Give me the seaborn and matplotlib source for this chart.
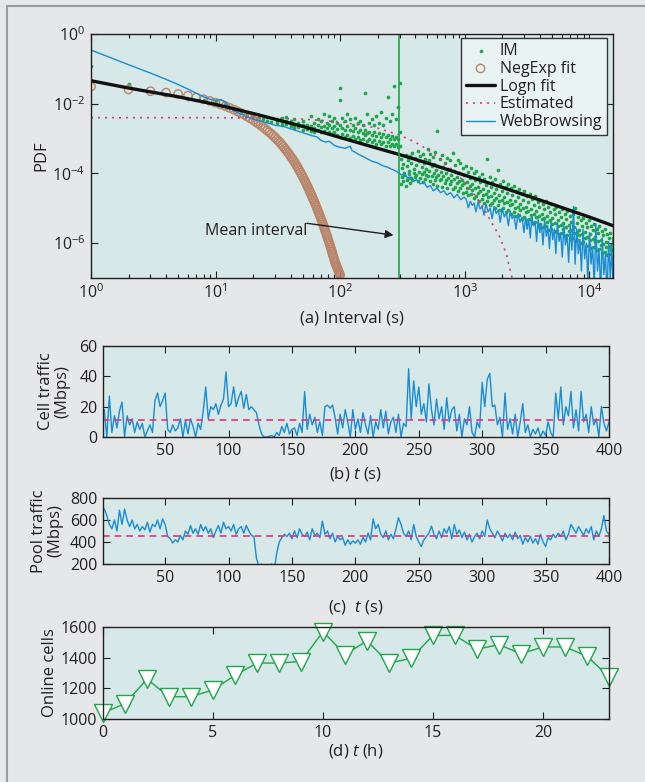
import numpy as np
import pandas as pd
import matplotlib.pyplot as plt
import seaborn as sns
from matplotlib.lines import Line2D

# ---------------- (a) interval PDF (values are log10 of the PDF) ----------------
web_x = [1, 2, 3, 4, 5, 6, 7, 8, 9, 10, 11, 12, 13, 14, 16, 18, 20, 23, 26, 30,
         35, 40, 45, 50, 55, 60, 65, 70, 76, 82, 90, 100, 110, 120, 125, 130, 140,
         150, 165, 180, 200, 220, 240, 260, 280, 300,
         310, 330, 350, 370, 390, 410, 440, 470, 500, 530, 560, 600, 640, 680, 720,
         770, 820, 870, 930, 990,
         1030, 1070, 1110, 1150, 1190, 1230, 1280, 1330, 1380, 1430, 1480, 1540,
         1600, 1660, 1720, 1790, 1860, 1930, 2000, 2080, 2160, 2240, 2320, 2400,
         2490, 2580, 2680, 2780, 2880, 2990,
         3080, 3170, 3260, 3360, 3460, 3560, 3670, 3780, 3890, 4010, 4130, 4250,
         4380, 4510, 4650, 4790, 4930, 5080, 5230, 5390, 5550, 5720, 5890, 6070,
         6250, 6440, 6630, 6830, 7040, 7250, 7470, 7690, 7920, 8160, 8400, 8650,
         8910, 9180, 9460, 9740, 10030, 10330, 10640, 10960, 11290, 11630, 11980,
         12340, 12710, 13090, 13480, 13880, 14300, 14730, 15170, 15500]
web_logy = [-0.46, -0.88, -1.12, -1.3, -1.45, -1.58, -1.7, -1.8, -1.87, -1.9, -1.88,
            -1.95, -2.12, -2.2, -2.3, -2.38, -2.44, -2.5, -2.55, -2.62, -2.65, -2.72,
            -2.78, -2.83, -2.88, -2.92, -2.95, -3.05, -3.1, -3.08, -3.2, -3.25, -3.28,
            -3.22, -3.35, -3.38, -3.45, -3.5, -3.58, -3.65, -3.7, -3.78, -3.82, -3.88,
            -3.93, -4.0,
            -4.05, -4.0, -4.15, -4.1, -4.22, -4.18, -4.3, -4.25, -4.4, -4.35, -4.5,
            -4.42, -4.55, -4.5, -4.62, -4.55, -4.7, -4.6, -4.75, -4.68,
            -4.75, -4.98, -4.8, -4.92, -4.85, -5.1, -4.82, -5.02, -4.95, -5.2,
            -4.88, -5.1, -5.0, -5.3, -4.95, -5.15, -5.05, -5.4, -5.0, -5.25,
            -5.12, -5.5, -5.08, -5.3, -5.2, -5.6, -5.15, -5.4, -5.25, -5.7,
            -5.25, -5.6, -5.3, -5.85, -5.22, -5.5, -5.4, -5.95,
            -5.3, -5.7, -5.45, -6.05, -5.32, -5.8, -5.55, -6.15,
            -5.38, -5.9, -5.6, -6.3, -5.42, -5.95, -5.7, -6.4,
            -5.48, -6.05, -5.75, -6.55, -5.5, -6.2, -4.95, -6.6,
            -5.58, -6.3, -5.9, -6.8, -5.6, -6.45, -6.0, -7.1,
            -5.7, -6.6, -6.1, -7.3, -5.45, -6.8, -6.2, -7.4,
            -5.85, -6.9, -6.3, -7.5, -5.95, -7.0, -6.1, -7.3]

im_near_x = [1, 2, 6, 8, 10, 12, 14, 16, 18, 20, 22, 24, 26, 28]
im_near_logy = [-0.91, -1.43, -1.86, -1.9, -1.93, -2.05, -2.18, -2.25, -2.3, -2.36,
                -2.42, -2.45, -2.5, -2.52]

im_mid_x = [31, 34, 37, 40, 43, 46, 50, 54, 58, 62, 66, 70, 74, 78, 82, 86, 90, 95,
            99, 104, 109, 114, 120, 126, 132, 138, 145, 152, 157, 164, 171, 179, 187,
            195, 204, 213, 222, 232, 240, 250, 260, 270, 280, 290, 300]
im_mid_a = [-2.45, -2.4, -2.38, -2.5, -2.45, -2.55, -2.5, -2.6, -2.35, -2.55, -2.45,
            -2.5, -2.3, -2.55, -2.35, -2.5, -2.4, -2.55, -1.55, -2.4, -2.5, -2.3,
            -2.45, -2.6, -2.4, -2.55, -2.5, -2.6, -1.68, -2.3, -2.55, -2.45, -2.6,
            -2.35, -2.55, -2.25, -2.6, -2.4, -1.8, -2.5, -2.3, -1.5, -2.45, -2.1, -1.4]
im_mid_b = [-2.5, -2.52, -2.5, -2.58, -2.6, -2.62, -2.62, -2.66, -2.65, -2.7, -2.62,
            -2.68, -2.65, -2.7, -2.62, -2.7, -2.65, -2.72, -2.6, -2.7, -2.75, -2.65,
            -2.75, -2.78, -2.7, -2.8, -2.75, -2.85, -2.75, -2.85, -2.8, -2.9, -2.82,
            -2.92, -2.85, -2.95, -2.88, -2.95, -2.9, -3.0, -2.92, -3.0, -2.95, -3.02, -2.8]
im_mid_c = [-2.55, -2.6, -2.58, -2.65, -2.7, -2.68, -2.75, -2.72, -2.78, -2.8, -2.75,
            -2.82, -2.78, -2.85, -2.8, -2.88, -2.82, -2.9, -1.9, -2.88, -2.95, -2.9,
            -2.98, -2.92, -3.0, -2.95, -3.05, -3.0, -2.9, -3.08, -3.0, -3.1, -3.05,
            -3.15, -3.08, -3.15, -3.1, -3.2, -3.1, -3.2, -3.15, -3.22, -3.15, -3.25, -3.2]

im_far_x = [310, 320, 335, 350, 365, 380, 400, 420, 440, 460, 480, 505, 530, 555, 580,
            600, 630, 660, 690, 720, 760, 800, 840, 880, 920, 970, 1020, 1070, 1120,
            1180, 1240, 1300, 1370, 1440, 1510, 1590, 1670, 1750, 1840, 1930, 2030,
            2130, 2240, 2350, 2470, 2600, 2730, 2870, 3010, 3160, 3320, 3490, 3670,
            3850, 4050, 4250, 4470, 4700, 4940, 5190, 5450, 5730, 6020, 6330, 6650,
            6990, 7340, 7710, 8100, 8510, 8950, 9400, 9880, 10380, 10910, 11460,
            12040, 12650, 13300, 13970, 14680, 15400]
im_far_hi = [-3.58, -3.72, -3.46, -3.62, -3.5, -3.41, -3.55, -3.36, -3.5, -3.44,
             -3.6, -3.3, -3.45, -3.52, -3.38, -2.77, -3.6, -3.48, -3.7, -3.55,
             -3.62, -3.4, -3.75, -3.62, -3.7, -3.85, -3.8, -3.95, -3.85, -4.0,
             -3.92, -4.1, -4.02, -4.15, -3.6, -4.1, -4.25, -4.15, -3.9, -4.3,
             -4.22, -4.4, -4.3, -4.42, -4.35, -4.5, -4.45, -4.58, -4.5, -4.65,
             -4.6, -4.72, -4.65, -4.82, -4.75, -4.88, -4.8, -4.95, -4.88, -5.02,
             -4.95, -5.1, -5.02, -5.15, -5.08, -5.22, -5.15, -4.98, -5.25, -5.35,
             -5.28, -5.42, -5.35, -5.5, -5.45, -5.58, -5.52, -5.66, -5.6, -5.75,
             -5.7, -5.85]
im_far_lo = [-4.3, -4.22, -4.35, -4.12, -4.28, -4.18, -4.1, -4.22, -4.12, -4.25,
             -4.15, -4.08, -4.22, -4.3, -4.18, -4.35, -4.2, -4.4, -4.28, -4.42,
             -4.3, -4.45, -4.38, -4.5, -4.42, -4.55, -4.52, -4.62, -4.58, -4.7,
             -4.65, -4.78, -4.72, -4.85, -4.8, -4.92, -4.85, -4.98, -4.92, -5.05,
             -4.98, -5.1, -5.05, -5.15, -5.1, -5.22, -5.18, -5.3, -5.25, -5.35,
             -5.3, -5.42, -5.38, -5.5, -5.45, -5.55, -5.5, -5.62, -5.58, -5.68,
             -5.65, -5.75, -5.7, -5.8, -5.78, -5.88, -5.85, -5.95, -5.9, -6.0,
             -5.98, -6.08, -6.05, -6.15, -6.1, -6.2, -6.18, -6.28, -6.25, -6.35,
             -6.32, -6.42]
im_far_x2 = [315, 327, 342, 357, 372, 390, 410, 430, 450, 470, 492, 517, 542, 567, 590,
             615, 645, 675, 705, 740, 780, 820, 860, 900, 945, 995, 1045, 1095, 1150,
             1210, 1270, 1335, 1405, 1475, 1550, 1630, 1710, 1795, 1885, 1980, 2080,
             2185, 2295, 2410, 2535, 2665, 2800, 2940, 3085, 3240, 3405, 3580, 3760,
             3950, 4150, 4360, 4585, 4820, 5065, 5320, 5590, 5875, 6175, 6490, 6820,
             7165, 7525, 7905, 8305, 8730, 9175, 9640, 10130, 10645, 11185, 11750,
             12345, 12975, 13635, 14325, 15040, 15500]
im_far_mid = [-3.85, -3.98, -3.78, -3.92, -3.7, -3.88, -3.75, -3.65, -3.82, -3.7,
              -3.86, -3.62, -3.8, -3.72, -3.9, -3.78, -3.95, -3.82, -4.0, -3.88,
              -4.05, -3.92, -4.1, -3.98, -4.18, -4.05, -4.25, -4.12, -4.3, -4.18,
              -4.38, -4.25, -4.45, -4.32, -4.5, -4.38, -4.55, -4.45, -4.62, -4.5,
              -4.68, -4.55, -4.75, -4.62, -4.8, -4.68, -4.88, -4.75, -4.95, -4.82,
              -5.02, -4.9, -5.08, -4.95, -5.15, -5.02, -5.22, -5.1, -5.28, -5.15,
              -5.35, -5.25, -5.42, -5.3, -5.48, -5.38, -5.55, -5.42, -5.62, -5.5,
              -5.68, -5.55, -5.75, -5.62, -5.82, -5.7, -5.9, -5.78, -5.98, -5.85,
              -6.05, -5.95]
im_far_q = [-4.1, -4.05, -4.18, -4.02, -4.12, -3.98, -4.05, -3.95, -4.02, -3.95,
            -4.05, -3.92, -4.08, -4.0, -4.1, -4.05, -4.15, -4.08, -4.2, -4.12,
            -4.22, -4.15, -4.28, -4.22, -4.32, -4.28, -4.42, -4.35, -4.48, -4.42,
            -4.55, -4.5, -4.62, -4.58, -4.68, -4.65, -4.75, -4.7, -4.8, -4.76,
            -4.85, -4.82, -4.92, -4.88, -4.98, -4.95, -5.05, -5.0, -5.12, -5.08,
            -5.18, -5.15, -5.25, -5.22, -5.32, -5.28, -5.38, -5.35, -5.45, -5.42,
            -5.5, -5.48, -5.58, -5.55, -5.65, -5.62, -5.7, -5.68, -5.78, -5.75,
            -5.85, -5.82, -5.9, -5.88, -5.98, -5.95, -6.05, -6.02, -6.12, -6.1,
            -6.2, -6.18]

negexp_x = list(range(1, 101))
negexp_logy = [-1.51, -1.59, -1.64, -1.68, -1.72, -1.77, -1.82, -1.87, -1.92, -1.97,
               -2.02, -2.07, -2.12, -2.17, -2.22, -2.27, -2.32, -2.37, -2.42, -2.47,
               -2.52, -2.57, -2.62, -2.67, -2.72, -2.77, -2.82, -2.87, -2.92, -2.97,
               -3.02, -3.07, -3.12, -3.18, -3.23, -3.29, -3.34, -3.40, -3.45, -3.51,
               -3.56, -3.62, -3.67, -3.73, -3.79, -3.85, -3.91, -3.97, -4.03, -4.09,
               -4.15, -4.21, -4.27, -4.33, -4.39, -4.45, -4.51, -4.57, -4.63, -4.69,
               -4.75, -4.81, -4.87, -4.93, -4.99, -5.05, -5.11, -5.17, -5.23, -5.29,
               -5.35, -5.41, -5.47, -5.53, -5.59, -5.65, -5.71, -5.77, -5.83, -5.89,
               -5.95, -6.01, -6.07, -6.13, -6.19, -6.25, -6.31, -6.37, -6.43, -6.49,
               -6.54, -6.59, -6.64, -6.68, -6.72, -6.76, -6.80, -6.84, -6.88, -6.92]

logn_x = [1, 2, 5, 10, 20, 50, 100, 200, 300, 500, 1000, 2000, 5000, 10000, 15500]
logn_logy = [-1.34, -1.55, -1.8, -2.02, -2.28, -2.65, -2.97, -3.28, -3.46, -3.7,
             -4.05, -4.4, -4.88, -5.25, -5.5]

est_x = [1, 10, 20, 50, 100, 200, 300, 400, 513, 650, 800, 1000, 1170, 1400, 1600,
         1900, 2150, 2400, 2600]
est_logy = [-2.4, -2.4, -2.41, -2.44, -2.52, -2.7, -2.9, -3.1, -3.34, -3.6, -3.91,
            -4.25, -4.57, -4.95, -5.34, -5.8, -6.29, -7.0, -7.5]
mean_interval = 296

# ---------------- (b) cell traffic, (c) pool traffic: one value every 2 s ----------------
cell_traffic = [18, 0, 27, 3, 14, 6, 17, 23, 0, 14,
                8, 12, 3, 10, 5, 9, 0, 4, 8, 3,
                24, 29, 20, 24, 29, 5, 3, 8, 4, 6,
                12, 0, 11, 2, 12, 7, 0, 9, 5, 17,
                33, 12, 20, 18, 22, 15, 21, 25, 43, 20,
                22, 33, 20, 26, 30, 19, 28, 18, 20, 18,
                16, 8, 2, 0, 0, 0.5, 1, 0, 3, 1,
                7, 3, 9, 2, 5, 6, 1, 9, 3, 30,
                5, 15, 8, 13, 3, 10, 1, 20, 21, 19,
                21, 13, 2, 15, 6, 18, 10, 0, 18, 5,
                12, 3, 16, 8, 2, 14, 0, 10, 5, 18,
                6, 17, 2, 10, 13, 3, 15, 0, 9, 7,
                45, 12, 37, 20, 33, 15, 22, 10, 35, 18,
                8, 25, 12, 20, 5, 26, 10, 18, 20, 4,
                15, 0, 12, 8, 20, 3, 0, 10, 6, 36,
                20, 38, 42, 20, 21, 8, 13, 0, 29, 5,
                12, 2, 15, 0, 10, 22, 3, 8, 0, 5,
                2, 6, 0, 4, 1, 10, 3, 0, 29, 12,
                33, 8, 20, 14, 30, 6, 18, 4, 30, 10,
                15, 3, 20, 8, 12, 0, 20, 9, 4, 10]
cell_mean = 11

pool_traffic = [700, 640, 560, 520, 600, 500, 690, 560, 700, 600,
                540, 600, 520, 560, 500, 540, 510, 580, 490, 560,
                540, 600, 520, 610, 560, 450, 430, 390, 420, 400,
                460, 420, 500, 470, 550, 480, 520, 470, 560, 500,
                540, 480, 520, 440, 500, 550, 480, 580, 520, 540,
                500, 560, 470, 520, 540, 480, 550, 500, 460, 450,
                250, 180, 200, 160, 190, 170, 200, 150, 300, 400,
                440, 470, 450, 480, 430, 500, 440, 520, 470, 450,
                490, 420, 520, 460, 480, 440, 590, 470, 500, 430,
                480, 400, 450, 420, 440, 370, 420, 380, 410, 390,
                420, 380, 440, 400, 480, 420, 610, 520, 560, 470,
                440, 500, 420, 470, 430, 520, 620, 560, 480, 450,
                500, 420, 560, 450, 400, 360, 420, 450, 480, 545,
                470, 430, 500, 440, 520, 480, 540, 430, 560, 470,
                510, 440, 490, 420, 470, 400, 450, 480, 430, 500,
                450, 600, 520, 480, 440, 500, 460, 410, 480, 440,
                470, 420, 490, 430, 460, 380, 440, 400, 450, 390,
                430, 380, 470, 400, 360, 440, 420, 470, 440, 480,
                450, 500, 420, 470, 560, 520, 480, 540, 500, 460,
                520, 480, 540, 420, 500, 450, 520, 640, 500, 470]
pool_mean = 455
t_sec = np.arange(2, 401, 2)

# ---------------- (d) online cells per hour ----------------
hours = list(range(24))
online_cells = [1040, 1100, 1260, 1145, 1145, 1190, 1285, 1365, 1365, 1375, 1570,
                1420, 1510, 1365, 1395, 1545, 1545, 1455, 1485, 1425, 1470, 1470,
                1410, 1275]

BG = "#e6e7e8"
FACE = "#d6e8e8"
BLUE = "#1a8cd6"
GREEN = "#1ea64a"
BROWN = "#b98468"
PINK = "#e8307c"
INK = "#231f20"

sns.set_theme(style="ticks")
plt.rcParams["font.family"] = ["Open Sans", "DejaVu Sans"]
plt.rcParams.update({
    "mathtext.fontset": "custom",
    "mathtext.rm": "Open Sans",
    "mathtext.it": "Open Sans:italic",
    "mathtext.bf": "Open Sans:bold",
    "axes.unicode_minus": False,
    "font.size": 11.5,
    "text.color": INK,
    "axes.labelcolor": INK,
    "xtick.color": INK,
    "ytick.color": INK,
    "axes.edgecolor": INK,
})

W, H = 645, 782
fig = plt.figure(figsize=(W / 100, H / 100), dpi=100, facecolor=BG)
# outer frame (top and left edges only are visible)
fig.add_artist(Line2D([7 / W, 7 / W], [0, 1 - 6 / H], color="#9c9c9c", lw=1.5))
fig.add_artist(Line2D([7 / W, 1], [1 - 6 / H, 1 - 6 / H], color="#9c9c9c", lw=1.5))


def add_ax(l, t, r, b):
    ax = fig.add_axes([l / W, 1 - b / H, (r - l) / W, (b - t) / H])
    ax.set_facecolor(FACE)
    for s in ax.spines.values():
        s.set_linewidth(1.0)
    ax.tick_params(direction="in", top=True, right=True, labelsize=11.5,
                   length=5, width=0.8, pad=4)
    ax.tick_params(which="minor", direction="in", top=True, right=True,
                   length=3, width=0.8)
    return ax


# ----- panel (a) -----
ax = add_ax(91, 34, 613, 278)
ax.set_xscale("log")
ax.set_yscale("log")

im_x = im_near_x + im_mid_x * 3 + im_far_x * 2 + im_far_x2 * 2
im_logy = (im_near_logy + im_mid_a + im_mid_b + im_mid_c
           + im_far_hi + im_far_lo + im_far_mid + im_far_q)
sns.scatterplot(x=im_x, y=10 ** np.array(im_logy), ax=ax, color=GREEN, s=7,
                linewidth=0, label="IM")
sns.lineplot(x=web_x, y=10 ** np.array(web_logy), ax=ax, color=BLUE, lw=1.0,
             estimator=None, label="WebBrowsing")
sns.scatterplot(x=negexp_x, y=10 ** np.array(negexp_logy), ax=ax, marker="o", s=36,
                color=BROWN, facecolors="none", edgecolor=BROWN, linewidth=1.0,
                label="NegExp fit")
sns.lineplot(x=est_x, y=10 ** np.array(est_logy), ax=ax, color=PINK, lw=1.2,
             dashes=False, linestyle=(0, (1.2, 3)), label="Estimated")
sns.lineplot(x=logn_x, y=10 ** np.array(logn_logy), ax=ax, color="#111111", lw=2.4,
             label="Logn fit")
ax.axvline(mean_interval, color=GREEN, lw=1.2)

ax.set_xlim(1, 15500)
ax.set_ylim(1e-7, 1)
ax.set_yticks([1, 1e-2, 1e-4, 1e-6])
ax.yaxis.set_minor_locator(plt.NullLocator())
ax.set_ylabel("PDF", va="center")
ax.yaxis.set_label_coords(-0.096, 0.5)
ax.set_xlabel("(a) Interval (s)", va="top")
ax.xaxis.set_label_coords(0.5, -0.132)

ax.text(8.2, 10 ** -5.66, "Mean interval", ha="left", va="center", fontsize=11.5)
ax.annotate("", xy=(268, 10 ** -5.77), xytext=(54, 10 ** -5.43),
            arrowprops=dict(arrowstyle="-|>", color=INK, lw=1.0,
                            mutation_scale=12, shrinkA=0, shrinkB=0))

handles, labels = ax.get_legend_handles_labels()
order = ["IM", "NegExp fit", "Logn fit", "Estimated", "WebBrowsing"]
hmap = dict(zip(labels, handles))
leg = ax.legend([hmap[k] for k in order], order, loc="upper right",
                bbox_to_anchor=(0.9885, 0.984), borderaxespad=0, frameon=True,
                fancybox=False, edgecolor="#333333", facecolor="#e9f3f3",
                framealpha=1, fontsize=11.5, handlelength=1.8, handletextpad=0.3,
                labelspacing=0.12, borderpad=0.3, markerscale=1.0)
leg.get_frame().set_linewidth(1.0)

# ----- panel (b) -----
ax = add_ax(103, 346, 609, 437)
sns.lineplot(x=t_sec, y=cell_traffic, ax=ax, color=BLUE, lw=1.0, estimator=None)
ax.axhline(cell_mean, color=PINK, lw=1.2, ls=(0, (4, 3)))
ax.set_xlim(1, 400)
ax.set_ylim(0, 60)
ax.set_xticks(range(50, 401, 50))
ax.set_yticks([0, 20, 40, 60])
ax.set_ylabel("Cell traffic\n(Mbps)", va="center", linespacing=1.0)
ax.yaxis.set_label_coords(-0.096, 0.5)
ax.set_xlabel("(b) $t$ (s)", va="top")
ax.xaxis.set_label_coords(0.5, -0.31)

# ----- panel (c) -----
ax = add_ax(103, 498, 609, 564)
sns.lineplot(x=t_sec, y=pool_traffic, ax=ax, color=BLUE, lw=1.0, estimator=None)
ax.axhline(pool_mean, color=PINK, lw=1.2, ls=(0, (4, 3)))
ax.set_xlim(1, 400)
ax.set_ylim(200, 800)
ax.set_xticks(range(50, 401, 50))
ax.set_yticks([200, 400, 600, 800])
ax.set_ylabel("Pool traffic\n(Mbps)", va="center", linespacing=1.0)
ax.yaxis.set_label_coords(-0.11, 0.5)
ax.set_xlabel("(c)  $t$ (s)", va="top")
ax.xaxis.set_label_coords(0.5, -0.515)

# ----- panel (d) -----
ax = add_ax(103, 627, 609, 719)
sns.lineplot(x=hours, y=online_cells, ax=ax, color=GREEN, lw=1.0, marker="v",
             markersize=13, markerfacecolor="white", markeredgecolor=GREEN,
             markeredgewidth=1.0, clip_on=False)
ax.set_xlim(0, 23)
ax.set_ylim(1000, 1600)
ax.set_xticks([0, 5, 10, 15, 20])
ax.set_yticks([1000, 1200, 1400, 1600])
ax.set_ylabel("Online cells", va="center")
ax.yaxis.set_label_coords(-0.105, 0.5)
ax.set_xlabel("(d) $t$ (h)", va="top")
ax.xaxis.set_label_coords(0.5, -0.25)

fig.savefig("out.png", dpi=100, facecolor=BG)
